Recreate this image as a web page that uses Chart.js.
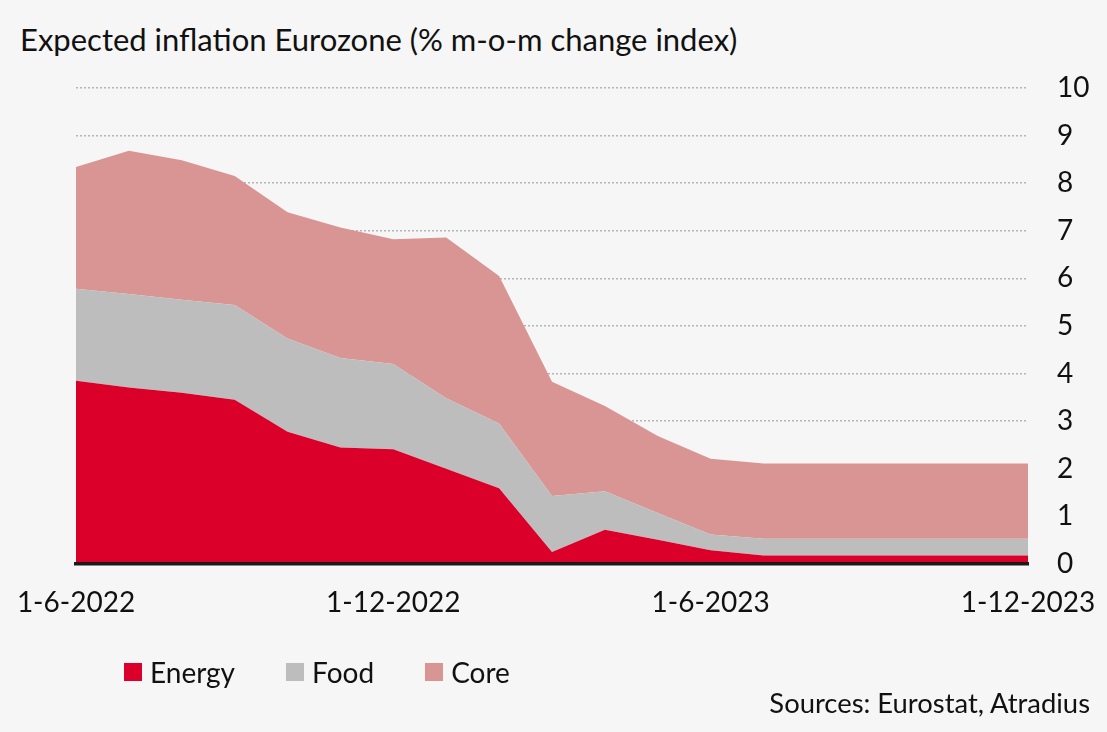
<!DOCTYPE html>
<html>
<head>
<meta charset="utf-8">
<script src="https://cdn.jsdelivr.net/npm/chart.js@4.4.1/dist/chart.umd.min.js"></script>
<style>
  html, body { margin: 0; padding: 0; background: #f6f6f6; }
  body { width: 1107px; height: 732px; position: relative; overflow: hidden; font-family: Lato, "Noto Sans", sans-serif; color: #111; }
  #title { position: absolute; left: 20px; top: 20px; font-size: 31px; white-space: nowrap; }
  #wrap { position: absolute; left: 0; top: 0; width: 1107px; height: 732px; }
  #legend { position: absolute; left: 124px; top: 655px; display: flex; font-size: 28px; }
  .item { display: flex; align-items: center; margin-right: 51px; }
  .box { width: 18px; height: 18px; margin-right: 8px; }
  #source { position: absolute; right: 17px; top: 686px; font-size: 27.4px; }
</style>
</head>
<body>
<div id="title">Expected inflation Eurozone (% m-o-m change index)</div>
<div id="wrap"><canvas id="chart" width="1107" height="732"></canvas></div>
<div id="legend"></div>
<div id="source">Sources: Eurostat, Atradius</div>
<script>
// Mesi (primo giorno del mese)
const months = [
  "1-6-2022", "1-7-2022", "1-8-2022", "1-9-2022", "1-10-2022", "1-11-2022",
  "1-12-2022", "1-1-2023", "1-2-2023", "1-3-2023", "1-4-2023", "1-5-2023",
  "1-6-2023", "1-7-2023", "1-8-2023", "1-9-2023", "1-10-2023", "1-11-2023",
  "1-12-2023"
];
const shownTicks = ["1-6-2022", "1-12-2022", "1-6-2023", "1-12-2023"];

// Componenti (punti percentuali, impilati)
const energy = [3.85, 3.71, 3.60, 3.45, 2.78, 2.45, 2.41, 2.00, 1.59, 0.25, 0.72, 0.51, 0.29, 0.18, 0.18, 0.18, 0.18, 0.18, 0.18];
const food   = [1.93, 1.96, 1.95, 1.99, 1.96, 1.88, 1.79, 1.48, 1.36, 1.18, 0.81, 0.56, 0.33, 0.35, 0.35, 0.35, 0.35, 0.35, 0.35];
const core   = [2.56, 3.01, 2.93, 2.71, 2.65, 2.74, 2.62, 3.38, 3.10, 2.40, 1.79, 1.62, 1.59, 1.58, 1.58, 1.58, 1.58, 1.58, 1.58];

const yTicks = [0, 1, 2, 3, 4, 5, 6, 7, 8, 9, 10];

const series = [
  { label: "Energy", data: energy, color: "#da0029" },
  { label: "Food", data: food, color: "#bdbdbd" },
  { label: "Core", data: core, color: "#d99593" },
];

const font = { family: "Lato, 'Noto Sans', sans-serif", size: 28 };

new Chart(document.getElementById("chart"), {
  type: "line",
  data: {
    labels: months,
    datasets: series.map((s, i) => ({
      label: s.label,
      data: s.data,
      backgroundColor: s.color,
      borderWidth: 0,
      pointRadius: 0,
      tension: 0,
      fill: i === 0 ? "origin" : "-1",
    })),
  },
  options: {
    responsive: false,
    animation: false,
    devicePixelRatio: 1,
    layout: { padding: { left: 76, top: 88, right: 0, bottom: 108 } },
    plugins: { legend: { display: false }, tooltip: { enabled: false } },
    scales: {
      x: {
        grid: { display: false, drawTicks: false },
        // z: 1 -> linea di base disegnata sopra le aree
        border: { display: true, color: "#1a1a1a", width: 3.5, z: 1 },
        afterFit: (s) => {
          s.height = 60;
          s.paddingLeft = 0;
          s.paddingRight = 0;
        },
        ticks: {
          autoSkip: false,
          maxRotation: 0,
          padding: 22,
          color: "#111",
          font: font,
          callback: function (v) {
            const l = this.getLabelForValue(v);
            return shownTicks.includes(l) ? l : "";
          },
        },
      },
      y: {
        position: "right",
        stacked: true,
        min: 0,
        max: 10,
        afterFit: (s) => {
          s.width = 79;
          s.paddingTop = 0;
          s.paddingBottom = 0;
        },
        afterBuildTicks: (s) => { s.ticks = yTicks.map((v) => ({ value: v })); },
        border: { display: false, dash: [2, 2] },
        grid: {
          drawTicks: false,
          color: (c) => (c.tick && c.tick.value === 0 ? "rgba(0,0,0,0)" : "#b5b5b5"),
          lineWidth: 1.5,
        },
        ticks: { padding: 29, color: "#111", font: font },
      },
    },
  },
});

// Legenda
const legend = document.getElementById("legend");
series.forEach((s) => {
  legend.innerHTML += `<div class="item"><span class="box" style="background:${s.color}"></span>${s.label}</div>`;
});
</script>
</body>
</html>
